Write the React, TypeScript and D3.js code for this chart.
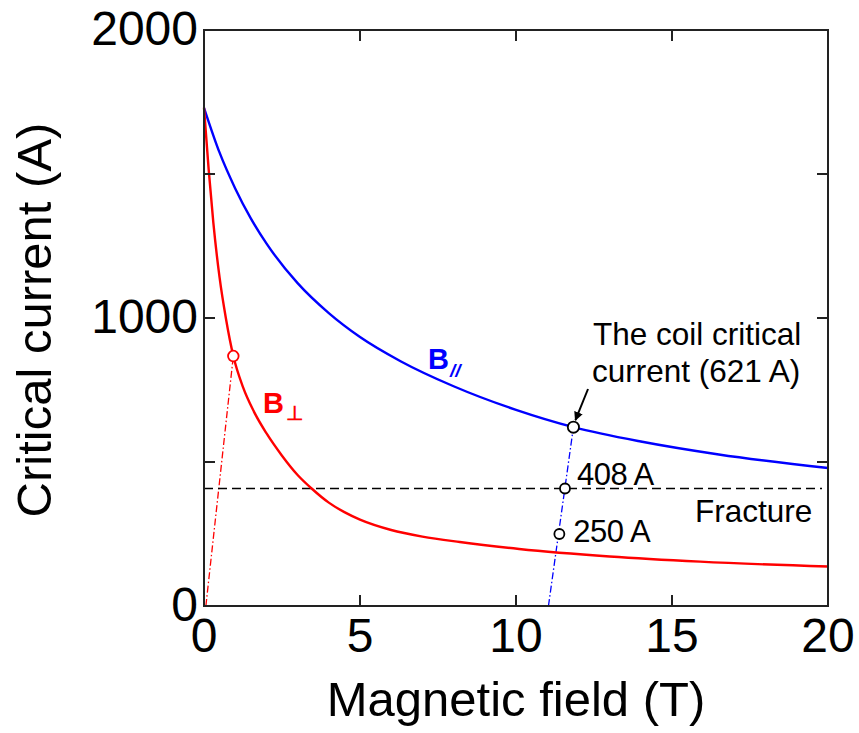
import React from "react";
import * as d3 from "d3";

// ---- data ----
const parField = [0, 0.5, 1, 1.5, 2, 3, 4, 5, 6.3, 8, 10, 11.84, 14, 16.5, 20];
const parCurrent = [1730, 1574, 1450, 1346, 1259, 1121, 1017, 934, 850, 763, 681, 621, 571, 526, 479];

const perpField = [0, 0.15, 0.3, 0.5, 0.7, 0.94, 1.25, 1.6, 2.0, 2.5, 3.0, 3.45, 4.0, 4.5, 5.0, 6.0, 7.0, 8.2, 10.1, 13, 15.9, 20];
const perpCurrent = [1730, 1515, 1330, 1140, 1000, 868, 760, 675, 600, 522, 455, 408, 359, 326, 300, 264, 241, 222, 198, 172, 154, 137];

// load lines (dash-dot)
const perpLoadField = [0.06, 0.94];
const perpLoadCurrent = [0, 868];
const parLoadField = [11.04, 11.84];
const parLoadCurrent = [0, 621];

// marked points
const markField = [11.84, 11.57, 11.39];
const markCurrent = [621, 408, 250];
const markLabels = ["", "408 A", "250 A"];
const perpMarkField = 0.94;
const perpMarkCurrent = 868;

const fractureCurrent = 408;

const xTickValues = [0, 5, 10, 15, 20];
const yTickValues = [0, 1000, 2000];
const xTickMarks = [5, 10, 15];
const yTickMarks = [500, 1000, 1500];

const FONT = "'Liberation Sans', Arial, Helvetica, sans-serif";

export default function App() {
  const W = 859;
  const H = 733;
  const left = 204, right = 828, top = 30, bottom = 606;
  const x = d3.scaleLinear().domain([0, 20]).range([left, right]);
  const y = d3.scaleLinear().domain([0, 2000]).range([bottom, top]);

  const line = d3
    .line<[number, number]>()
    .x((d) => x(d[0]))
    .y((d) => y(d[1]))
    .curve(d3.curveMonotoneX);
  const straight = d3
    .line<[number, number]>()
    .x((d) => x(d[0]))
    .y((d) => y(d[1]));

  const parPts = parField.map((b, i) => [b, parCurrent[i]] as [number, number]);
  const perpPts = perpField.map((b, i) => [b, perpCurrent[i]] as [number, number]);
  const perpLoad = perpLoadField.map((b, i) => [b, perpLoadCurrent[i]] as [number, number]);
  const parLoad = parLoadField.map((b, i) => [b, parLoadCurrent[i]] as [number, number]);

  const tick = 11;
  const dashDot = "7,2.5,1.5,2.5";
  const labelOffsets = [[0, 0], [12, -3], [14, 8]];

  return (
    <div style={{ position: "absolute", left: 0, top: 0 }}>
      <svg width={W} height={H} viewBox={`0 0 ${W} ${H}`} style={{ display: "block", background: "#fff" }}>
        <defs>
          <marker id="arrowHead" viewBox="0 0 10 10" refX="9" refY="5" markerWidth="4.5" markerHeight="4.5" orient="auto">
            <path d="M0,0 L10,5 L0,10 z" fill="#000" />
          </marker>
        </defs>

        {/* load lines */}
        <path d={straight(perpLoad) || ""} fill="none" stroke="#ff0000" strokeWidth={1.3} strokeDasharray={dashDot} />
        <path d={straight(parLoad) || ""} fill="none" stroke="#0000ff" strokeWidth={1.3} strokeDasharray={dashDot} />

        {/* fracture line */}
        <line x1={x(0)} x2={822} y1={y(fractureCurrent)} y2={y(fractureCurrent)} stroke="#000" strokeWidth={1.6} strokeDasharray="9,5" />

        {/* curves */}
        <path d={line(parPts) || ""} fill="none" stroke="#0000ff" strokeWidth={2.4} />
        <path d={line(perpPts) || ""} fill="none" stroke="#ff0000" strokeWidth={2.4} />

        {/* frame */}
        <rect x={left} y={top} width={right - left} height={bottom - top} fill="none" stroke="#222" strokeWidth={2} />
        {xTickMarks.map((v) => (
          <g key={"xt" + v}>
            <line x1={x(v)} x2={x(v)} y1={bottom} y2={bottom - tick} stroke="#222" strokeWidth={2} />
            <line x1={x(v)} x2={x(v)} y1={top} y2={top + tick} stroke="#222" strokeWidth={2} />
          </g>
        ))}
        {yTickMarks.map((v) => (
          <g key={"yt" + v}>
            <line x1={left} x2={left + tick} y1={y(v)} y2={y(v)} stroke="#222" strokeWidth={2} />
            <line x1={right} x2={right - tick} y1={y(v)} y2={y(v)} stroke="#222" strokeWidth={2} />
          </g>
        ))}

        {/* tick labels */}
        {xTickValues.map((v) => (
          <text key={"xl" + v} x={x(v)} y={652} textAnchor="middle" fontFamily={FONT} fontSize={48} fill="#000">
            {v}
          </text>
        ))}
        {yTickValues.map((v) => (
          <text key={"yl" + v} x={198} y={y(v) + 15} textAnchor="end" fontFamily={FONT} fontSize={48} fill="#000">
            {v}
          </text>
        ))}

        {/* axis titles */}
        <text x={(left + right) / 2} y={716} textAnchor="middle" fontFamily={FONT} fontSize={49} fill="#000">
          Magnetic field (T)
        </text>
        <text transform={`translate(51,${(top + bottom) / 2 + 2}) rotate(-90)`} textAnchor="middle" fontFamily={FONT} fontSize={49} fill="#000">
          Critical current (A)
        </text>

        {/* markers */}
        <circle cx={x(perpMarkField)} cy={y(perpMarkCurrent)} r={5.3} fill="#fff" stroke="#ff0000" strokeWidth={1.8} />
        {markField.map((b, i) => (
          <circle key={"m" + i} cx={x(b)} cy={y(markCurrent[i])} r={i === 0 ? 5.6 : 5} fill="#fff" stroke="#000" strokeWidth={1.8} />
        ))}
        {markField.map((b, i) =>
          markLabels[i] ? (
            <text key={"ml" + i} x={x(b) + labelOffsets[i][0]} y={y(markCurrent[i]) + labelOffsets[i][1]} fontFamily={FONT} fontSize={31} fill="#000" letterSpacing={-0.5}>
              {markLabels[i]}
            </text>
          ) : null
        )}

        {/* arrow and annotation */}
        <line x1={588} y1={389} x2={x(markField[0]) + 2} y2={y(markCurrent[0]) - 7} stroke="#000" strokeWidth={2} markerEnd="url(#arrowHead)" />
        <text x={593} y={345} fontFamily={FONT} fontSize={31.5} fill="#000">
          The coil critical
        </text>
        <text x={592} y={382} fontFamily={FONT} fontSize={31.5} fill="#000">
          current (621 A)
        </text>
        <text x={695} y={522} fontFamily={FONT} fontSize={31.5} fill="#000">
          Fracture
        </text>

        {/* curve labels */}
        <text x={428} y={369} fontFamily={FONT} fontSize={29} fontWeight="bold" fill="#0000ff">
          B
          <tspan dx={1} dy={8} fontSize={19} fontStyle="italic">//</tspan>
        </text>
        <text x={263} y={413} fontFamily={FONT} fontSize={29} fontWeight="bold" fill="#ff0000">
          B
          <tspan dx={2} dy={7} fontSize={20}>⊥</tspan>
        </text>
      </svg>
    </div>
  );
}
